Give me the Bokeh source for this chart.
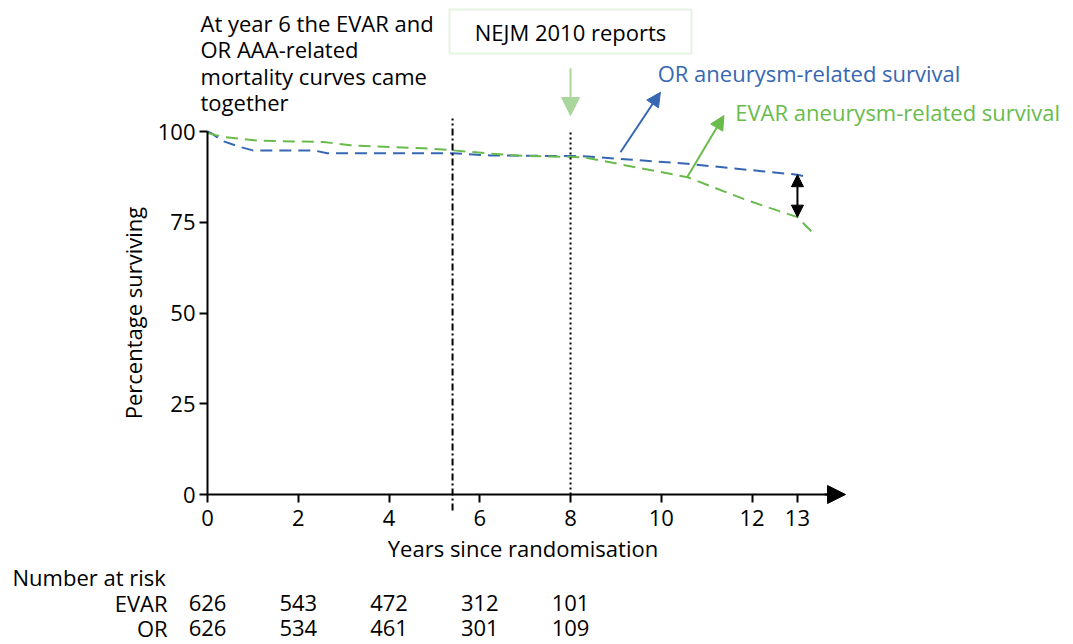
from bokeh.plotting import figure
from bokeh.models import (Range1d, Label, LabelSet, Arrow, NormalHead, BoxAnnotation,
                          ColumnDataSource, FixedTicker)
from bokeh.core.properties import value
from bokeh.embed import file_html
from bokeh.resources import INLINE

# ---- data ----
or_years = [0, 0.1, 0.35, 0.73, 1.0, 2.34, 2.64, 5.42, 6.24, 8.29, 10.58, 13.0, 13.24]
or_surv = [100, 99.4, 97.3, 95.7, 94.8, 94.8, 94.0, 94.0, 93.4, 93.2, 91.1, 88.1, 87.4]
evar_years = [0, 0.35, 1.1, 2.56, 3.15, 4.03, 4.76, 5.42, 6.24, 7.0, 8.29, 10.58, 11.9, 13.0, 13.4]
evar_surv = [99.6, 98.5, 97.5, 97.1, 96.2, 95.7, 95.4, 94.8, 93.9, 93.3, 92.9, 87.4, 81.0, 76.4, 71.3]
x_ticks = [0, 2, 4, 6, 8, 10, 12, 13]
y_ticks = [0, 25, 50, 75, 100]
risk_years = [0, 2, 4, 6, 8]
risk_evar = ["626", "543", "472", "312", "101"]
risk_or = ["626", "534", "461", "301", "109"]
convergence_year = 5.4
nejm_year = 8
gap_year = 13

BLUE = "#3767b3"
GREEN = "#69bb4c"
LIGHT_GREEN = "#a9d69c"
FONT = "Open Sans"
FS = "22px"

XS = 45.38   # px per year
YS = 3.63    # px per percent
W, H = 1073, 644
X0, Y0 = 207, 494   # where (0, 0) falls on the canvas

p = figure(width=W, height=H,
           x_range=Range1d(-X0 / XS, (W - X0) / XS),
           y_range=Range1d(-(H - Y0) / YS, Y0 / YS),
           output_backend="svg", toolbar_location=None, title=None, min_border=0,
           min_border_left=0, min_border_bottom=0, min_border_top=0, min_border_right=0)
p.outline_line_color = None
p.xgrid.visible = False
p.ygrid.visible = False

for ax in (p.xaxis, p.yaxis):
    ax.fixed_location = 0
    ax.axis_line_width = 2
    ax.axis_line_color = "black"
    ax.major_tick_line_width = 2
    ax.major_tick_line_color = "black"
    ax.major_tick_out = 8
    ax.major_tick_in = 0
    ax.minor_tick_out = 0
    ax.minor_tick_in = 0
    ax.major_label_text_font = FONT
    ax.major_label_text_font_size = FS
    ax.major_label_text_color = "black"
    ax.axis_label_text_font = FONT
    ax.axis_label_text_font_size = FS
    ax.axis_label_text_font_style = "normal"
    ax.axis_label_text_color = "black"

p.xaxis.ticker = FixedTicker(ticks=x_ticks)
p.xaxis.bounds = (0, 13.9)
p.xaxis.axis_label = "Years since randomisation"
p.xaxis.major_label_standoff = 7
p.xaxis.axis_label_standoff = 4
p.yaxis.ticker = FixedTicker(ticks=y_ticks)
p.yaxis.bounds = (0, 100)
p.yaxis.axis_label = "Percentage surviving"
p.yaxis.major_label_standoff = 4
p.yaxis.axis_label_standoff = 7

# x-axis arrow head
p.add_layout(Arrow(end=NormalHead(size=18, fill_color="black", line_color="black"),
                   x_start=13.6, y_start=0, x_end=14.06, y_end=0, line_width=2, line_color="black"))

# curves
p.line(or_years, or_surv, line_color=BLUE, line_width=2, line_dash="12 7")
p.line(evar_years, evar_surv, line_color=GREEN, line_width=2, line_dash="12 7")

# vertical reference lines
p.add_layout(Arrow(end=None, x_start=convergence_year, y_start=-4.4, x_end=convergence_year, y_end=103.6,
                   line_dash="7 3 2 3", line_width=2, line_color="black"))
p.add_layout(Arrow(end=None, x_start=nejm_year, y_start=0, x_end=nejm_year, y_end=100.3,
                   line_dash="2 3", line_width=2, line_color="black"))

# gap arrow at year 13
i_or = or_years.index(13.0)
i_ev = evar_years.index(13.0)
p.add_layout(Arrow(start=NormalHead(size=12, fill_color="black", line_color="black"),
                   end=NormalHead(size=12, fill_color="black", line_color="black"),
                   x_start=gap_year, y_start=or_surv[i_or], x_end=gap_year, y_end=evar_surv[i_ev],
                   line_width=2, line_color="black"))

# NEJM box and arrow
p.add_layout(BoxAnnotation(left=nejm_year - 121 / XS, right=nejm_year + 121 / XS, top=133.6, bottom=121.5,
                           fill_color="white", fill_alpha=1, line_color=LIGHT_GREEN, line_width=2))
p.add_layout(Label(x=nejm_year, y=127.4, text="NEJM 2010 reports", text_align="center",
                   text_baseline="middle", text_font=FONT, text_font_size=FS, text_color="black"))
p.add_layout(Arrow(end=NormalHead(size=18, fill_color=LIGHT_GREEN, line_color=LIGHT_GREEN),
                   x_start=nejm_year, y_start=117.4, x_end=nejm_year, y_end=104.4,
                   line_width=2, line_color=LIGHT_GREEN))

# series callouts
p.add_layout(Arrow(end=NormalHead(size=14, fill_color=BLUE, line_color=BLUE),
                   x_start=9.10, y_start=94.3, x_end=9.98, y_end=110.8, line_width=2, line_color=BLUE))
p.add_layout(Label(x=9.92, y=116.0, text="OR aneurysm-related survival", text_align="left",
                   text_baseline="middle", text_font=FONT, text_font_size=FS, text_color=BLUE))
p.add_layout(Arrow(end=NormalHead(size=14, fill_color=GREEN, line_color=GREEN),
                   x_start=10.57, y_start=87.4, x_end=11.38, y_end=104.4, line_width=2, line_color=GREEN))
p.add_layout(Label(x=11.63, y=105.5, text="EVAR aneurysm-related survival", text_align="left",
                   text_baseline="middle", text_font=FONT, text_font_size=FS, text_color=GREEN))

# top-left note
note_lines = ["At year 6 the EVAR and", "OR AAA-related", "mortality curves came", "together"]
for k, t in enumerate(note_lines):
    p.add_layout(Label(x=-0.154, y=130.0 - k * 7.3, text=t, text_align="left", text_baseline="middle",
                       text_font=FONT, text_font_size=FS, text_color="black"))

# number at risk table
p.add_layout(Label(x=-4.297, y=-22.6, text="Number at risk", text_align="left",
                   text_baseline="middle", text_font=FONT, text_font_size=FS, text_color="black"))
for name, vals, yy in (("EVAR", risk_evar, -29.8), ("OR", risk_or, -36.9)):
    p.add_layout(Label(x=-0.88, y=yy, text=name, text_align="right", text_baseline="middle",
                       text_font=FONT, text_font_size=FS, text_color="black"))
    src = ColumnDataSource(dict(x=risk_years, y=[yy] * len(vals), t=vals))
    p.add_layout(LabelSet(x="x", y="y", text="t", source=src, text_align="center", text_baseline="middle",
                          text_font=value(FONT), text_font_size=value(FS), text_color="black"))

open("out.html", "w").write(file_html(p, INLINE))
